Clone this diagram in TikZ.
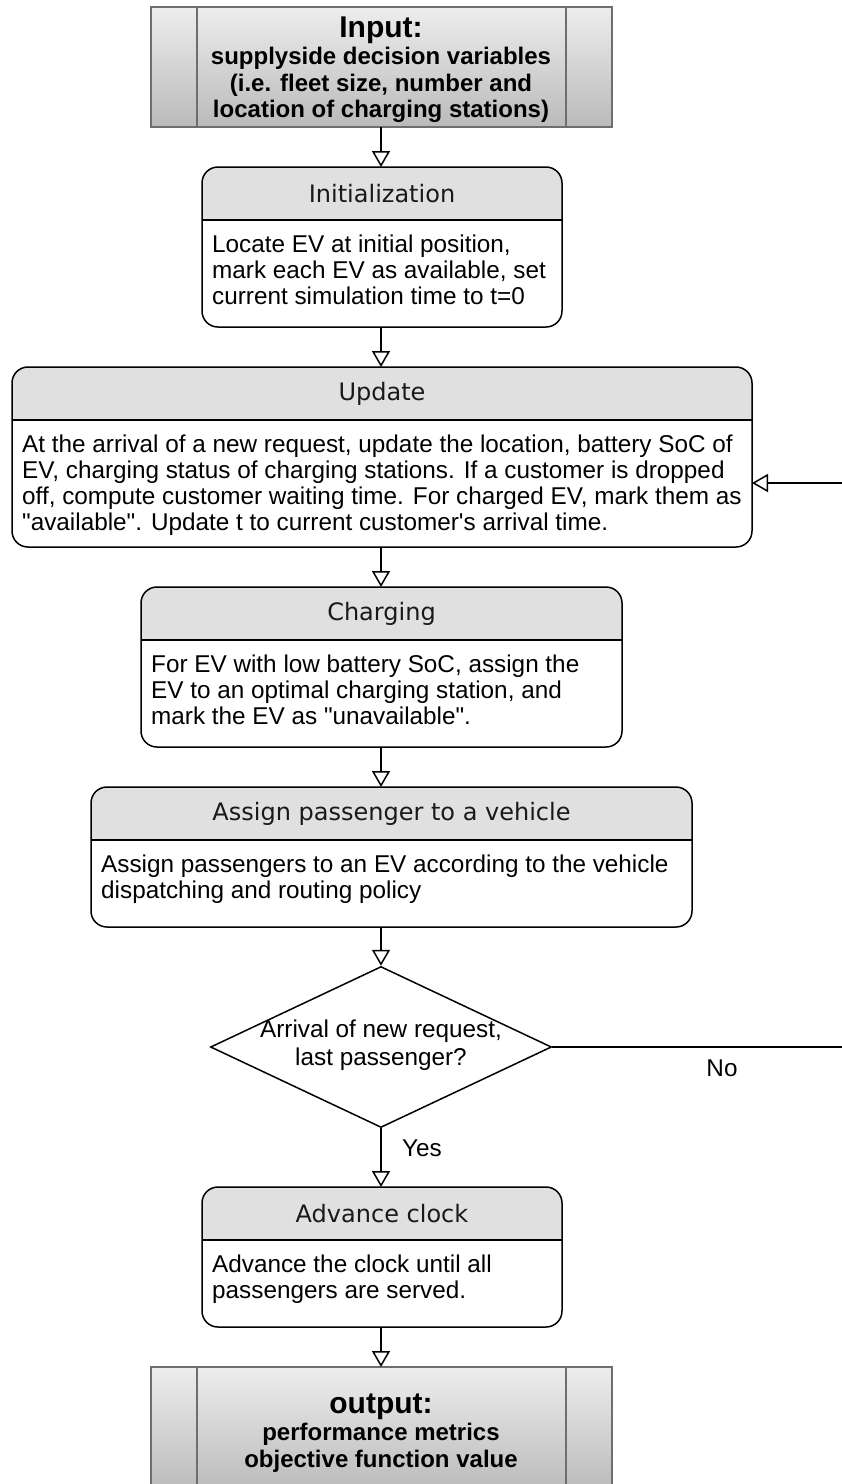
\documentclass[tikz,border=0pt]{standalone}
\usepackage{fontspec}
\setmainfont{Liberation Sans}
\newfontfamily\arialfont{Liberation Sans}
\newfontfamily\headfont{DejaVu Sans}
\usetikzlibrary{arrows.meta,shapes.geometric,fit,calc}

\definecolor{headgray}{HTML}{E0E0E0}
\definecolor{procline}{HTML}{6E6E6E}
\newcommand\bodyfont{\arialfont\fontsize{24.3}{25.9}\selectfont}
\newcommand\titlefont{\headfont\fontsize{24}{28}\selectfont}

% Rounded process box with a grey title band:
% #1 name, #2 left, #3 top, #4 right, #5 bottom, #6 y of title rule, #7 title, #8 body
\newcommand\procbox[8]{%
  \node[fit={(#2,-#3) (#4,-#5)}, inner sep=0pt, outer sep=0pt] (#1) {};
  \begin{scope}
    \clip[rounded corners=16pt] (#1.south west) rectangle (#1.north east);
    \fill[headgray] (#1.north west) rectangle (#4,-#6);
  \end{scope}
  \draw[boxline] (#2,-#6) -- (#4,-#6);
  \draw[boxline, rounded corners=16pt] (#1.south west) rectangle (#1.north east);
  \node[titletext] (#1-title) at ({(#2+#4)/2},{-(#3+#6)/2}) {#7};
  \node[bodytext] (#1-text) at ({#2+10},{-(#6+15)}) {#8};
}

% Predefined-process box (double side bars, grey gradient)
% #1 name, #2 left, #3 top, #4 right, #5 bottom
\newcommand\predefbox[5]{%
  \node[fit={(#2,-#3) (#4,-#5)}, inner sep=0pt, outer sep=0pt,
        top color=black!7, bottom color=black!27, draw=procline, line width=1.5pt] (#1) {};
  \draw[procline, line width=1.5pt] ({#2+46},-#3) -- ({#2+46},-#5)
                                    ({#4-46},-#3) -- ({#4-46},-#5);
}

\begin{document}
\begin{tikzpicture}[x=1pt, y=1pt,
  boxline/.style={draw=black, line width=1.5pt},
  titletext/.style={font=\titlefont, text=black!90, inner sep=0pt},
  bodytext/.style={font=\bodyfont, align=left, anchor=north west, inner sep=0pt},
  iotext/.style={font=\arialfont\bfseries\fontsize{24}{26.8}\selectfont, align=center, inner sep=0pt},
  flow/.style={draw=black, line width=1.5pt,
    -{Triangle[length=16pt, width=18pt, fill=white]}},
  lbl/.style={font=\bodyfont, inner sep=0pt}]

\useasboundingbox (0,0) rectangle (842,-1484);
\coordinate (axis) at (381,0);

% input
\predefbox{inp}{151}{7}{612}{127}
\node[iotext] (inp-text) at (381,-70)
  {{\fontsize{30}{30}\selectfont Input:}\\[0pt]
   supplyside decision variables\\
   (i.e. fleet size, number and\\
   location of charging stations)};

% process steps
\procbox{init}{202}{167}{562}{327}{220}{Initialization}
  {Locate EV at initial position,\\mark each EV as available, set\\current simulation time to t=0}
\procbox{upd}{12}{367}{752}{547}{420}{Update}
  {At the arrival of a new request, update the location, battery SoC of\\
   EV, charging status of charging stations. If a customer is dropped\\
   off, compute customer waiting time. For charged EV, mark them as\\
   "available". Update t to current customer's arrival time.}
\procbox{chg}{141}{587}{622}{747}{640}{Charging}
  {For EV with low battery SoC, assign the\\EV to an optimal charging station, and\\mark the EV as "unavailable".}
\procbox{asg}{91}{787}{692}{927}{840}{Assign passenger to a vehicle}
  {Assign passengers to an EV according to the vehicle\\dispatching and routing policy}

% decision
\node[diamond, draw=black, line width=1.5pt, minimum width=341pt, minimum height=161pt,
      inner sep=0pt] (dec) at (381,-1047) {};
\node[lbl, font=\arialfont\fontsize{24.3}{28}\selectfont, align=center] (dec-text) at (381,-1045)
  {Arrival of new request,\\last passenger?};

\procbox{adv}{202}{1187}{562}{1327}{1240}{Advance clock}
  {Advance the clock until all\\passengers are served.}

% output
\predefbox{outp}{151}{1367}{612}{1492}
\node[iotext] (outp-text) at (381,-1433)
  {{\fontsize{30}{30}\selectfont output:}\\[0pt]
   performance metrics\\
   objective function value};

% connectors
\draw[flow] (inp.south -| axis) -- (init.north -| axis);
\draw[flow] (init.south -| axis) -- (upd.north -| axis);
\draw[flow] (upd.south -| axis) -- (chg.north -| axis);
\draw[flow] (chg.south -| axis) -- (asg.north -| axis);
\draw[flow] (asg.south -| axis) -- (dec.north);
\draw[flow] (dec.south) -- (adv.north -| axis);
\draw[flow] (adv.south -| axis) -- (outp.north -| axis);

% loop back to the update step
\coordinate (loop) at (843,-483);
\draw[flow] (dec.east) -- (dec.east -| loop) -- (loop) -- (upd.east |- loop);

\node[lbl] (no) at (722,-1068) {No};
\node[lbl] (yes) at (422,-1148) {Yes};
\end{tikzpicture}
\end{document}
